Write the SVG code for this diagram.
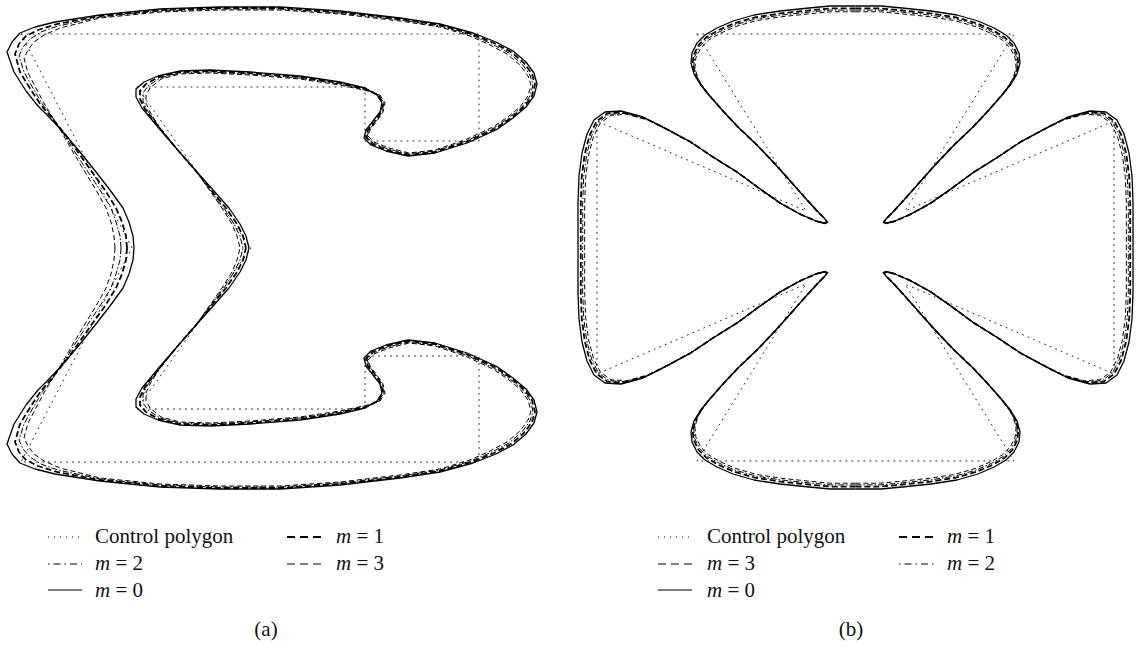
<svg xmlns="http://www.w3.org/2000/svg" xmlns:xlink="http://www.w3.org/1999/xlink" width="1146" height="646" viewBox="0 0 1146 646">
<style>
  .poly{fill:none;stroke:#222;stroke-width:1;stroke-dasharray:1 5;stroke-linecap:round}
  .m0{fill:none;stroke:#000;stroke-width:1.3;stroke-linejoin:round}
  .m1{fill:none;stroke:#000;stroke-width:1.8;stroke-dasharray:6 3}
  .m2{fill:none;stroke:#000;stroke-width:1;stroke-dasharray:6 2 1.5 2}
  .m3{fill:none;stroke:#000;stroke-width:1;stroke-dasharray:5 3}
  .lg{fill:none;stroke:#000}
  .t{font-family:"Liberation Serif","DejaVu Serif",serif;font-size:21px;fill:#111}
  .it{font-style:italic}
</style>
<defs>
  <path id="s0" d="M134,248 L133,236 L129,222 L123,208 L110,190 L96,172 L80,152 L64,133 L50,118 L38,106 L26,91 L14,72 L7,52 L12,42 L20,33 L35,27 L55,22 L100,15 L160,9 L220,7 L280,7 L340,11 L400,18 L440,24 L473,33 L496,42 L513,51 L526,62 L534,73 L537,84 L534,96 L526,107 L513,118 L496,130 L467,143 L435,153 L408,156 L386,151 L371,145 L364,138 L366,130 L373,121 L380,112 L382,103 L377,95 L365,88 L340,82 L300,76 L250,72 L210,70 L180,71 L158,76 L144,82 L136,89 L136,97 L142,108 L157,126 L176,148 L196,171 L214,191 L229,208 L240,224 L246,236 L249,248"/>
  <path id="sA" d="M127,248 L126,236 L122,222 L116,208 L105,190 L92,172 L78,152 L64,133 L52,118 L41,105 L31,90 L20,72 L15,54 L19,44 L26,36 L38,30 L57,24 L100,16 L160,10 L220,8 L280,8 L340,12 L400,19 L440,25 L472,34 L494,43 L511,52 L524,63 L532,74 L535,84 L532,96 L524,107 L511,118 L495,129 L466,142 L435,152 L408,155 L387,150 L372,144 L366,137 L368,130 L375,121 L381,112 L383,103 L378,95 L366,89 L340,83 L300,77 L250,73 L210,71 L180,72 L159,77 L146,84 L140,91 L140,99 L145,109 L158,126 L176,148 L196,171 L212,191 L226,208 L237,224 L243,236 L246,248"/>
  <path id="sB" d="M121,248 L120,236 L116,222 L111,208 L100,190 L88,172 L75,152 L63,133 L53,118 L43,105 L34,90 L24,72 L19,56 L23,47 L30,39 L41,32 L58,26 L100,17 L160,11 L220,9 L280,9 L340,13 L400,20 L440,26 L471,35 L492,44 L509,53 L522,64 L530,75 L533,85 L530,96 L522,107 L510,117 L494,128 L466,141 L435,151 L409,154 L388,149 L373,143 L367,137 L369,130 L376,121 L382,112 L384,103 L379,95 L367,90 L340,84 L300,78 L250,74 L210,72 L180,73 L160,78 L148,86 L143,93 L143,101 L147,110 L159,127 L176,148 L196,171 L211,191 L224,208 L234,224 L240,236 L243,248"/>
  <path id="sC" d="M115,248 L114,236 L111,222 L106,208 L96,190 L85,172 L73,152 L62,133 L53,118 L45,105 L37,90 L28,73 L24,58 L28,50 L34,42 L44,35 L60,28 L100,18 L160,12 L220,10 L280,10 L340,14 L400,21 L440,27 L470,36 L490,45 L507,54 L520,65 L528,76 L531,85 L528,96 L520,107 L509,116 L493,127 L465,140 L435,150 L409,153 L389,148 L374,142 L368,136 L370,130 L377,121 L383,112 L385,103 L380,95 L368,91 L340,85 L300,79 L250,75 L210,73 L180,74 L161,79 L150,88 L146,95 L146,103 L150,112 L160,128 L176,148 L196,171 L210,191 L222,208 L232,224 L237,236 L240,248"/>
  <path id="fq" d="M855.5,6 L830,6 L809,8 L780,11 L754,15 L733,21 L717,28 L705,35 L697,43 L692,53 L691,63 L694,74 L700,84 L708,94 L722,110 L738,127 L757,145 L775,164 L792,183 L807,200 L818,212 L825,219 L827,222 L824,223 L816,221 L800,214 L780,203 L760,189 L737,172 L713,157 L689,141 L663,127 L643,117 L621,111 L605,112 L594,120 L587,134 L582,153 L579,176 L578,202 L578,226 L578,247.5"/>
  <g id="flower">
    <use xlink:href="#fq"/>
    <use xlink:href="#fq" transform="matrix(-1 0 0 1 1711 0)"/>
    <use xlink:href="#fq" transform="matrix(1 0 0 -1 0 495)"/>
    <use xlink:href="#fq" transform="matrix(-1 0 0 -1 1711 495)"/>
  </g>
</defs>

<g id="panel-a">
  <polygon id="poly-a" class="poly" points="21,34 479,34 479,141 365,141 365,87 137,87 251,248 137,409 365,409 365,356 479,356 479,462 21,462 132,248"/>
  <g id="curve-a-m3" class="m3">
    <use xlink:href="#sC"/>
    <use xlink:href="#sC" transform="matrix(1 0 0 -1 0 496)"/>
  </g>
  <g id="curve-a-m2" class="m2">
    <use xlink:href="#sB"/>
    <use xlink:href="#sB" transform="matrix(1 0 0 -1 0 496)"/>
  </g>
  <g id="curve-a-m1" class="m1">
    <use xlink:href="#sA"/>
    <use xlink:href="#sA" transform="matrix(1 0 0 -1 0 496)"/>
  </g>
  <g id="curve-a-m0" class="m0">
    <use xlink:href="#s0"/>
    <use xlink:href="#s0" transform="matrix(1 0 0 -1 0 496)"/>
  </g>
</g>

<g id="panel-b">
  <polygon id="poly-b" class="poly" points="697,34 1014,34 905,211 1114,121 1114,374 905,284 1014,461 697,461 806,284 597,374 597,121 806,211"/>
  <g id="curve-b-m3" class="m3"><use xlink:href="#flower" transform="translate(855.5 247.5) scale(0.976) translate(-855.5 -247.5)"/></g>
  <g id="curve-b-m2" class="m2"><use xlink:href="#flower" transform="translate(855.5 247.5) scale(0.983) translate(-855.5 -247.5)"/></g>
  <g id="curve-b-m1" class="m1"><use xlink:href="#flower" transform="translate(855.5 247.5) scale(0.99) translate(-855.5 -247.5)"/></g>
  <g id="curve-b-m0" class="m0"><use xlink:href="#flower"/></g>
</g>

<g id="legend-a">
  <line class="lg" x1="48" y1="537" x2="82" y2="537" stroke-width="1" stroke-dasharray="1 5"/>
  <text class="t" x="95" y="543">Control polygon</text>
  <line class="lg" x1="287" y1="537" x2="323" y2="537" stroke-width="2" stroke-dasharray="8 5"/>
  <text class="t" x="336" y="543"><tspan class="it">m</tspan> = 1</text>
  <line class="lg" x1="48" y1="564" x2="82" y2="564" stroke-width="1" stroke-dasharray="1.5 4 7 4"/>
  <text class="t" x="95" y="570"><tspan class="it">m</tspan> = 2</text>
  <line class="lg" x1="287" y1="564" x2="323" y2="564" stroke-width="1" stroke-dasharray="8 5"/>
  <text class="t" x="336" y="570"><tspan class="it">m</tspan> = 3</text>
  <line class="lg" x1="48" y1="590" x2="82" y2="590" stroke-width="1.2"/>
  <text class="t" x="95" y="597"><tspan class="it">m</tspan> = 0</text>
  <text class="t" x="266" y="636" text-anchor="middle">(a)</text>
</g>

<g id="legend-b">
  <line class="lg" x1="658" y1="537" x2="692" y2="537" stroke-width="1" stroke-dasharray="1 5"/>
  <text class="t" x="707" y="543">Control polygon</text>
  <line class="lg" x1="899" y1="537" x2="935" y2="537" stroke-width="2" stroke-dasharray="8 5"/>
  <text class="t" x="947" y="543"><tspan class="it">m</tspan> = 1</text>
  <line class="lg" x1="658" y1="564" x2="692" y2="564" stroke-width="1" stroke-dasharray="8 5"/>
  <text class="t" x="707" y="570"><tspan class="it">m</tspan> = 3</text>
  <line class="lg" x1="899" y1="564" x2="935" y2="564" stroke-width="1" stroke-dasharray="1.5 4 7 4"/>
  <text class="t" x="947" y="570"><tspan class="it">m</tspan> = 2</text>
  <line class="lg" x1="658" y1="590" x2="692" y2="590" stroke-width="1.2"/>
  <text class="t" x="707" y="597"><tspan class="it">m</tspan> = 0</text>
  <text class="t" x="851" y="636" text-anchor="middle">(b)</text>
</g>
</svg>
